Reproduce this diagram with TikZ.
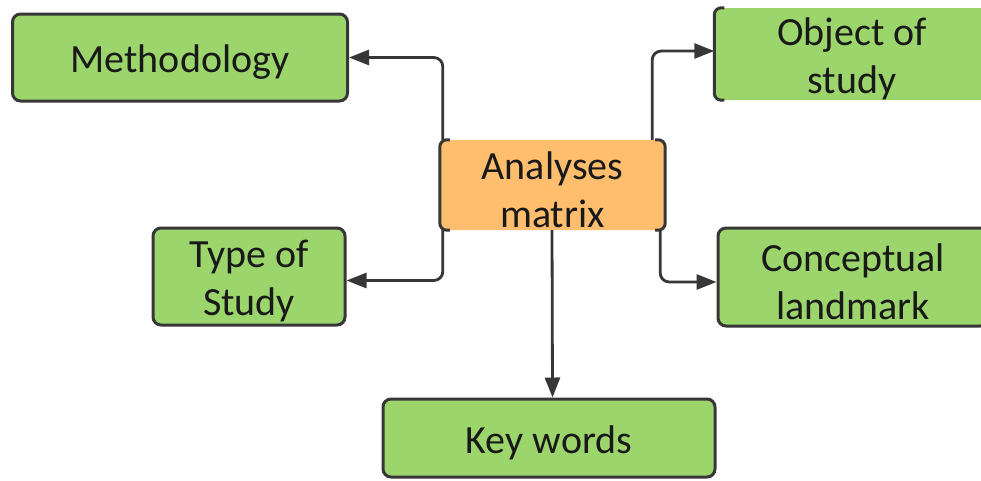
\documentclass[tikz,border=0pt]{standalone}
\usepackage{fontspec}
\setmainfont{Carlito}
\usetikzlibrary{arrows.meta}
\definecolor{boxgreen}{RGB}{155,213,108}
\definecolor{boxorange}{RGB}{255,190,110}
\definecolor{edgegray}{RGB}{55,55,55}
\newcommand{\dn}{\rule{0pt}{37pt}}
\begin{document}
\begin{tikzpicture}[x=1pt,y=-1pt,
  txt/.style={align=center,font=\fontsize{40}{48}\selectfont,inner sep=0pt,text=black!90},
  gbox/.style={txt,fill=boxgreen,draw=edgegray,line width=3pt,rounded corners=8pt},
  gfill/.style={txt,fill=boxgreen,rounded corners=8pt},
  obox/.style={txt,fill=boxorange,rounded corners=8pt},
  bracket/.style={draw=edgegray,line width=3pt,rounded corners=7pt},
  arr/.style={draw=edgegray,line width=2.8pt,rounded corners=9pt,-{Triangle[length=20pt,width=15pt]}}]
\useasboundingbox (0,0) rectangle (981,480);
\clip (0,0) rectangle (981,480);
\node[gbox,minimum width=335pt,minimum height=87pt] (meth) at (180,57.5) {\dn Methodology};
\node[gbox,minimum width=192pt,minimum height=97pt] (type) at (249,276.5) {\dn Type of\\Study};
\node[gfill,minimum width=275pt,minimum height=92pt] (obj) at (852,54) {\dn Object of\\study};
\draw[bracket] ([xshift=10pt]obj.north west) -- (obj.north west) -- (obj.south west) -- ([xshift=10pt]obj.south west);
\node[gbox,minimum width=270pt,minimum height=98pt] (conc) at (853,277) {\dn Conceptual\\landmark};
\node[gbox,minimum width=332pt,minimum height=78pt] (key) at (549,438) {\dn Key words};
\node[obox,minimum width=225pt,minimum height=90pt] (am) at (552.5,185) {\dn Analyses\\matrix};
\draw[bracket] ([xshift=10pt]am.north west) -- (am.north west) -- (am.south west) -- ([xshift=10pt]am.south west);
\draw[bracket] ([xshift=-10pt]am.north east) -- (am.north east) -- (am.south east) -- ([xshift=-10pt]am.south east);
\draw[arr] ([xshift=3pt]am.north west) |- (meth.east);
\draw[arr] ([xshift=3pt]am.south west) |- ([yshift=-4pt]type.east);
\draw[arr] ([xshift=-13pt]am.north east) |- ([yshift=3pt]obj.west);
\draw[arr] ([xshift=-5pt]am.south east) |- ([yshift=-5pt]conc.west);
\draw[arr] ([xshift=-0.5pt]am.south) -- (key.north -| am.south);
\end{tikzpicture}
\end{document}
